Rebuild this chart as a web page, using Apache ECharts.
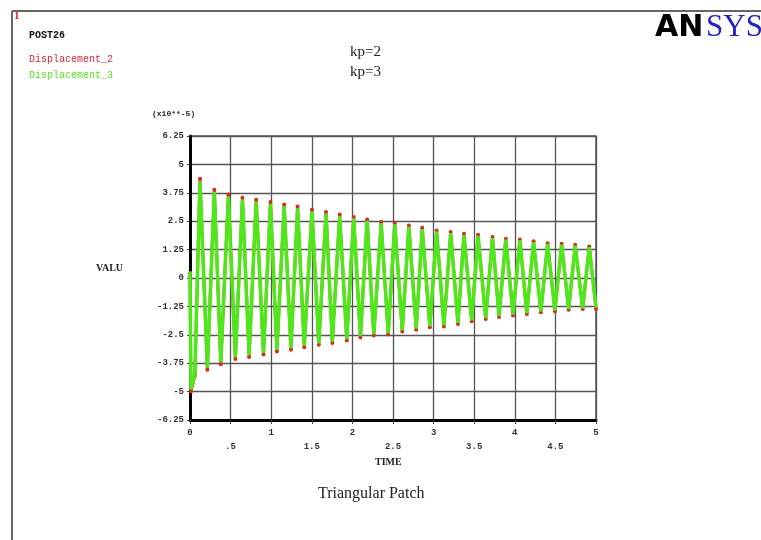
<!DOCTYPE html>
<html><head><meta charset="utf-8">
<script src="https://cdn.jsdelivr.net/npm/echarts@6/dist/echarts.min.js"></script>
<style>html,body{margin:0;padding:0;background:#fff}#c{width:761px;height:540px}</style>
</head><body><div id="c"></div>
<script>
// Time samples (s) at the start point, extremes of each swing
var timeVals = [0, 0.012, 0.06,
 0.123,0.214,0.300,0.379,0.473,0.559,0.646,0.728,0.815,0.905,0.991,1.070,1.160,1.243,1.325,1.407,
 1.502,1.586,1.675,1.753,1.843,1.931,2.016,2.099,2.181,2.263,2.354,2.441,2.522,2.614,2.695,2.786,
 2.860,2.954,3.037,3.127,3.210,3.300,3.374,3.469,3.547,3.642,3.725,3.806,3.889,3.979,4.062,4.148,
 4.231,4.321,4.404,4.494,4.577,4.663,4.744,4.836,4.917,5.0];
// Displacement_2 (kp=2), x10^-5
var disp2 = [0.2,-5.0,-4.3,
 4.37,-4.04,3.88,-3.80,3.67,-3.57,3.53,-3.48,3.44,-3.37,3.34,-3.24,3.23,-3.16,3.15,-3.05,
 3.00,-2.94,2.91,-2.86,2.79,-2.75,2.68,-2.62,2.57,-2.53,2.46,-2.49,2.42,-2.35,2.31,-2.28,
 2.21,-2.17,2.09,-2.13,2.02,-2.02,1.95,-1.90,1.90,-1.80,1.80,-1.72,1.73,-1.65,1.70,-1.58,
 1.62,-1.51,1.53,-1.46,1.51,-1.40,1.46,-1.36,1.39,-1.36];
// Displacement_3 (kp=3), x10^-5
var disp3 = [0.3,-4.9,-4.2,
 4.25,-3.95,3.78,-3.70,3.58,-3.48,3.45,-3.40,3.36,-3.30,3.26,-3.17,3.15,-3.09,3.07,-2.98,
 2.93,-2.88,2.84,-2.80,2.72,-2.69,2.62,-2.56,2.51,-2.47,2.41,-2.43,2.36,-2.30,2.25,-2.23,
 2.15,-2.12,2.04,-2.08,1.97,-1.97,1.90,-1.86,1.85,-1.76,1.75,-1.68,1.69,-1.61,1.66,-1.54,
 1.58,-1.48,1.50,-1.43,1.47,-1.37,1.42,-1.33,1.36,-1.30];
var yTicks = [-6.25,-5,-3.75,-2.5,-1.25,0,1.25,2.5,3.75,5,6.25];
var xTicks = ['0','.5','1','1.5','2','2.5','3','3.5','4','4.5','5'];

function pairs(vals){ return timeVals.map(function(t,i){ return [t, vals[i]]; }); }
var mono = '"Liberation Mono", monospace';
var serif = '"Liberation Serif", serif';

var chart = echarts.init(document.getElementById('c'));
chart.setOption({
  animation: false,
  backgroundColor: '#fff',
  grid: {left: 190, right: 165, top: 136, bottom: 120, show: true, borderColor: '#555', borderWidth: 1.5},
  xAxis: {
    type: 'value', min: 0, max: 5, interval: 0.5,
    axisLine: {show: true, onZero: false, lineStyle: {color: '#000', width: 3}},
    axisTick: {show: true, length: 4, lineStyle: {color: '#444'}},
    splitLine: {show: true, lineStyle: {color: '#555', width: 1.3}},
    axisLabel: {
      margin: 8, fontFamily: mono, fontSize: 9, fontWeight: 'bold', color: '#333',
      formatter: function(v){
        var i = Math.round(v*2);
        var s = xTicks[i];
        return (i % 2 === 0) ? '{a|' + s + '}' : '{b|' + s + '}';
      },
      rich: {
        a: {fontFamily: mono, fontSize: 9, fontWeight: 'bold', color: '#333', padding: [0,0,14,0]},
        b: {fontFamily: mono, fontSize: 9, fontWeight: 'bold', color: '#333', padding: [14,0,0,0]}
      }
    }
  },
  yAxis: {
    type: 'value', min: -6.25, max: 6.25, interval: 1.25,
    axisLine: {show: true, onZero: false, lineStyle: {color: '#000', width: 3}},
    axisTick: {show: true, length: 3, lineStyle: {color: '#444'}},
    splitLine: {show: true, lineStyle: {color: '#555', width: 1.3}},
    axisLabel: {
      margin: 6, fontFamily: mono, fontSize: 9, fontWeight: 'bold', color: '#333',
      formatter: function(v){
        var idx = yTicks.indexOf(Math.round(v*100)/100);
        return idx >= 0 ? String(yTicks[idx]) : '';
      }
    }
  },
  series: [
    {
      name: 'Displacement_2', type: 'line', data: pairs(disp2),
      showSymbol: true, symbol: 'circle', symbolSize: 4,
      itemStyle: {color: '#e0281c'},
      lineStyle: {color: '#c8501c', width: 3},
      z: 2
    },
    {
      name: 'Displacement_3', type: 'line', data: pairs(disp3),
      showSymbol: false,
      lineStyle: {color: '#4ee81a', width: 3.5},
      z: 3
    }
  ],
  graphic: [
    {type: 'line', shape: {x1: 12, y1: 11, x2: 761, y2: 11}, style: {stroke: '#666', lineWidth: 2}},
    {type: 'line', shape: {x1: 12, y1: 11, x2: 12, y2: 540}, style: {stroke: '#666', lineWidth: 2}},
    {type: 'text', left: 14, top: 11, style: {text: '1', fill: '#e02020', font: 'bold 11px ' + serif}},
    {type: 'text', left: 29, top: 30, style: {text: 'POST26', fill: '#111', font: 'bold 10px ' + mono}},
    {type: 'text', left: 29, top: 54, style: {text: 'Displacement_2', fill: '#e8203a', font: '10px ' + mono}},
    {type: 'text', left: 29, top: 70, style: {text: 'Displacement_3', fill: '#55e61e', font: '10px ' + mono}},
    {type: 'text', left: 350, top: 45, style: {text: 'kp=2', fill: '#222', font: '15px ' + serif}},
    {type: 'text', left: 350, top: 65, style: {text: 'kp=3', fill: '#222', font: '15px ' + serif}},
    {type: 'text', left: 655, top: 13, style: {text: 'AN', fill: '#000', font: 'bold 30px "DejaVu Sans", sans-serif'}},
    {type: 'text', left: 706, top: 12, style: {text: 'SYS', fill: '#2222cc', font: '31px ' + serif}},
    {type: 'text', left: 152, top: 110, style: {text: '(x10**-5)', fill: '#222', font: 'bold 8px ' + mono}},
    {type: 'text', left: 96, top: 263, style: {text: 'VALU', fill: '#222', font: 'bold 10px ' + serif}},
    {type: 'text', left: 375, top: 457, style: {text: 'TIME', fill: '#222', font: 'bold 10px ' + serif}},
    {type: 'text', left: 318, top: 486, style: {text: 'Triangular Patch', fill: '#222', font: '16px ' + serif}}
  ]
});
</script></body></html>
